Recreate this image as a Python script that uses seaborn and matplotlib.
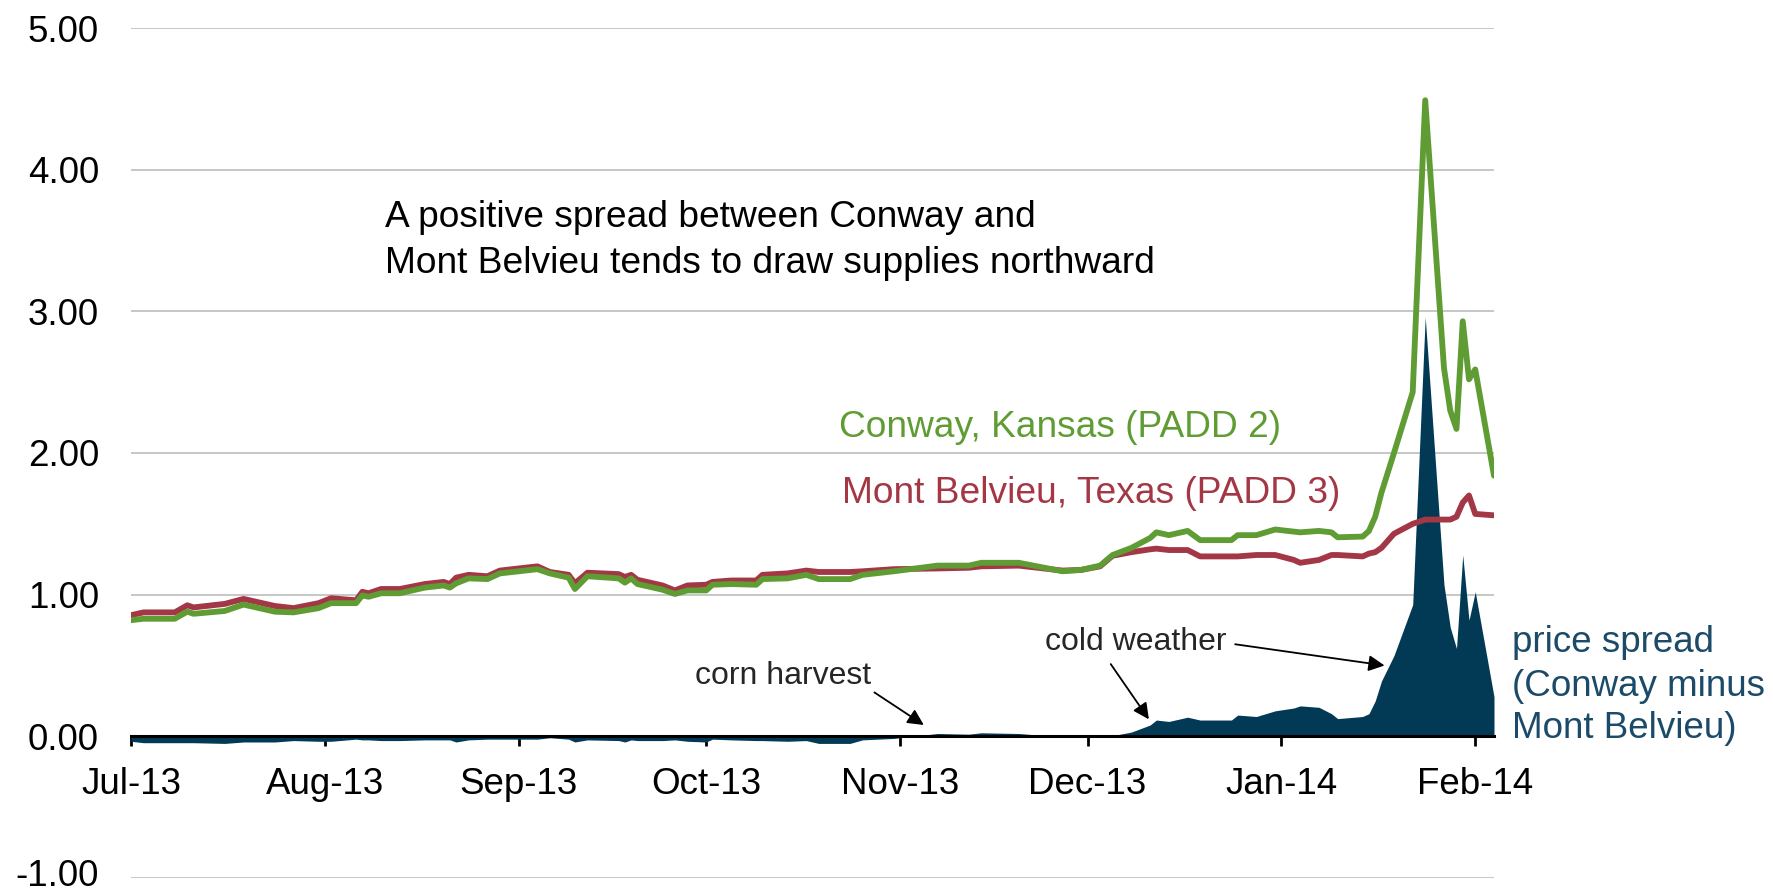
import matplotlib
matplotlib.use("Agg")
import matplotlib.pyplot as plt
import matplotlib.dates as mdates
import matplotlib.transforms as mtransforms
import seaborn as sns
import pandas as pd

# ---------------- data ----------------
dates = [
    "2013-07-01", "2013-07-03", "2013-07-08", "2013-07-10", "2013-07-11", "2013-07-16",
    "2013-07-19", "2013-07-24", "2013-07-27", "2013-07-31", "2013-08-02", "2013-08-06",
    "2013-08-07", "2013-08-08", "2013-08-10", "2013-08-13", "2013-08-17", "2013-08-20",
    "2013-08-21", "2013-08-22", "2013-08-24", "2013-08-27", "2013-08-29", "2013-09-04",
    "2013-09-06", "2013-09-09", "2013-09-10", "2013-09-12", "2013-09-17", "2013-09-18",
    "2013-09-19", "2013-09-20", "2013-09-24", "2013-09-26", "2013-09-28", "2013-10-01",
    "2013-10-02", "2013-10-05", "2013-10-09", "2013-10-10", "2013-10-14", "2013-10-17",
    "2013-10-19", "2013-10-24", "2013-10-26", "2013-10-31", "2013-11-07", "2013-11-12",
    "2013-11-14", "2013-11-20", "2013-11-27", "2013-11-30", "2013-12-03", "2013-12-05",
    "2013-12-08", "2013-12-11", "2013-12-12", "2013-12-14", "2013-12-17", "2013-12-19",
    "2013-12-24", "2013-12-25", "2013-12-28", "2013-12-31", "2014-01-03", "2014-01-04",
    "2014-01-07", "2014-01-09", "2014-01-10", "2014-01-14", "2014-01-15", "2014-01-16",
    "2014-01-17", "2014-01-19", "2014-01-22", "2014-01-24", "2014-01-27", "2014-01-28",
    "2014-01-29", "2014-01-30", "2014-01-31", "2014-02-01", "2014-02-04",
]
conway = [
    0.82, 0.83, 0.83, 0.88, 0.865, 0.885,
    0.93, 0.88, 0.875, 0.905, 0.94, 0.94,
    0.995, 0.985, 1.01, 1.01, 1.05, 1.065,
    1.05, 1.08, 1.115, 1.11, 1.15, 1.18,
    1.15, 1.12, 1.04, 1.13, 1.115, 1.085,
    1.115, 1.075, 1.035, 1.005, 1.03, 1.03,
    1.07, 1.075, 1.07, 1.11, 1.115, 1.14,
    1.11, 1.11, 1.14, 1.165, 1.205, 1.205,
    1.225, 1.225, 1.165, 1.175, 1.205, 1.28,
    1.33, 1.40, 1.44, 1.42, 1.45, 1.385,
    1.385, 1.42, 1.42, 1.46, 1.445, 1.44,
    1.45, 1.44, 1.405, 1.41, 1.45, 1.55,
    1.72, 2.00, 2.43, 4.49, 2.60, 2.30,
    2.17, 2.93, 2.52, 2.59, 1.84,
]
mont_belvieu = [
    0.855, 0.875, 0.875, 0.925, 0.91, 0.935,
    0.97, 0.92, 0.905, 0.94, 0.975, 0.96,
    1.02, 1.01, 1.04, 1.04, 1.075, 1.09,
    1.075, 1.12, 1.14, 1.13, 1.17, 1.20,
    1.16, 1.14, 1.08, 1.155, 1.145, 1.125,
    1.14, 1.105, 1.065, 1.03, 1.065, 1.07,
    1.09, 1.10, 1.10, 1.14, 1.15, 1.17,
    1.16, 1.16, 1.165, 1.18, 1.185, 1.19,
    1.20, 1.205, 1.17, 1.175, 1.20, 1.275,
    1.30, 1.32, 1.325, 1.315, 1.315, 1.27,
    1.27, 1.27, 1.28, 1.28, 1.245, 1.225,
    1.245, 1.28, 1.28, 1.27, 1.29, 1.30,
    1.33, 1.43, 1.50, 1.53, 1.53, 1.53,
    1.55, 1.65, 1.70, 1.57, 1.56,
]
month_ticks = ["2013-07-01", "2013-08-01", "2013-09-01", "2013-10-01",
               "2013-11-01", "2013-12-01", "2014-01-01", "2014-02-01"]
y_ticks = [-1, 0, 1, 2, 3, 4, 5]

GREEN = "#5f9c34"
RED = "#a43745"
NAVY = "#023a56"
NAVY_TXT = "#1b4b68"

sns.set_theme(style="white")
plt.rcParams["font.family"] = ["Liberation Sans", "DejaVu Sans"]

df = pd.DataFrame({
    "date": pd.to_datetime(dates),
    "Conway": conway,
    "Mont Belvieu": mont_belvieu,
})
df["spread"] = df["Conway"] - df["Mont Belvieu"]

W, H = 1774, 890
fig = plt.figure(figsize=(W / 100, H / 100), dpi=100)
ax = fig.add_axes([131 / W, 12 / H, (1494 - 131) / W, (878 - 28) / H])

ax.fill_between(df["date"], 0, df["spread"], color=NAVY, lw=0, zorder=2)
sns.lineplot(data=df, x="date", y="Mont Belvieu", color=RED, lw=4.2, ax=ax, zorder=3)
sns.lineplot(data=df, x="date", y="Conway", color=GREEN, lw=4.2, ax=ax, zorder=4)

start = pd.Timestamp(dates[0])
ax.set_xlim(start, pd.Timestamp(dates[-1]))
ax.set_ylim(-1, 5)
ax.set_xlabel("")
ax.set_ylabel("")

TICK_FS = 26.5
ax.set_yticks(y_ticks)
ax.set_yticklabels(["" if v == -1 else f"{v:.2f}" for v in y_ticks])
ax.yaxis.grid(True, color="#c3c3c3", lw=1.3, zorder=0)
ax.xaxis.grid(False)
ax.set_axisbelow(True)

ax.set_xticks(pd.to_datetime(month_ticks))
ax.xaxis.set_major_formatter(mdates.DateFormatter("%b-%y"))

for s in ["left", "right", "top"]:
    ax.spines[s].set_visible(False)
ax.spines["bottom"].set_position(("data", 0))
ax.spines["bottom"].set_color("black")
ax.spines["bottom"].set_linewidth(2.2)
ax.spines["bottom"].set_zorder(5)

ax.tick_params(axis="y", length=0, labelsize=TICK_FS, pad=23, labelcolor="black")
ax.tick_params(axis="x", bottom=True, direction="out", length=7, width=2,
               color="black", labelsize=TICK_FS, pad=15, labelcolor="black")

# lowest y label, nudged up slightly so it stays inside the figure
trans = mtransforms.offset_copy(ax.get_yaxis_transform(), fig=fig, x=-32, y=6, units="dots")
ax.text(0, -1, f"{-1:.2f}", transform=trans, ha="right", va="center_baseline",
        fontsize=TICK_FS, color="black", clip_on=False)


def d(days):
    return start + pd.Timedelta(days=days)


NOTE_FS = 26.7
# main note
ax.text(d(40.7), 3.66, "A positive spread between Conway and", fontsize=NOTE_FS,
        ha="left", va="center", color="black")
ax.text(d(40.7), 3.34, "Mont Belvieu tends to draw supplies northward", fontsize=NOTE_FS,
        ha="left", va="center", color="black")

# series labels
ax.text(d(113.3), 2.18, "Conway, Kansas (PADD 2)", fontsize=NOTE_FS, color=GREEN,
        ha="left", va="center")
ax.text(d(113.7), 1.715, "Mont Belvieu, Texas (PADD 3)", fontsize=NOTE_FS, color=RED,
        ha="left", va="center")

for yy, line in zip([0.664, 0.354, 0.057],
                    ["price spread", "(Conway minus", "Mont Belvieu)"]):
    ax.text(d(220.8), yy, line, fontsize=26.5, color=NAVY_TXT, ha="left",
            va="center", clip_on=False)

# annotations
arrow = dict(arrowstyle="-|>", color="black", lw=1.3, mutation_scale=24,
             shrinkA=0, shrinkB=0)
ax.text(d(104.3), 0.425, "corn harvest", fontsize=23, ha="center", va="center")
ax.annotate("", xy=(d(126.8), 0.08), xytext=(d(118.9), 0.31), arrowprops=arrow)

ax.text(d(160.7), 0.665, "cold weather", fontsize=23, ha="center", va="center")
ax.annotate("", xy=(d(162.8), 0.12), xytext=(d(156.7), 0.51), arrowprops=arrow)
ax.annotate("", xy=(d(200.5), 0.50), xytext=(d(176.6), 0.65), arrowprops=arrow)

fig.savefig("out.png", dpi=100)
